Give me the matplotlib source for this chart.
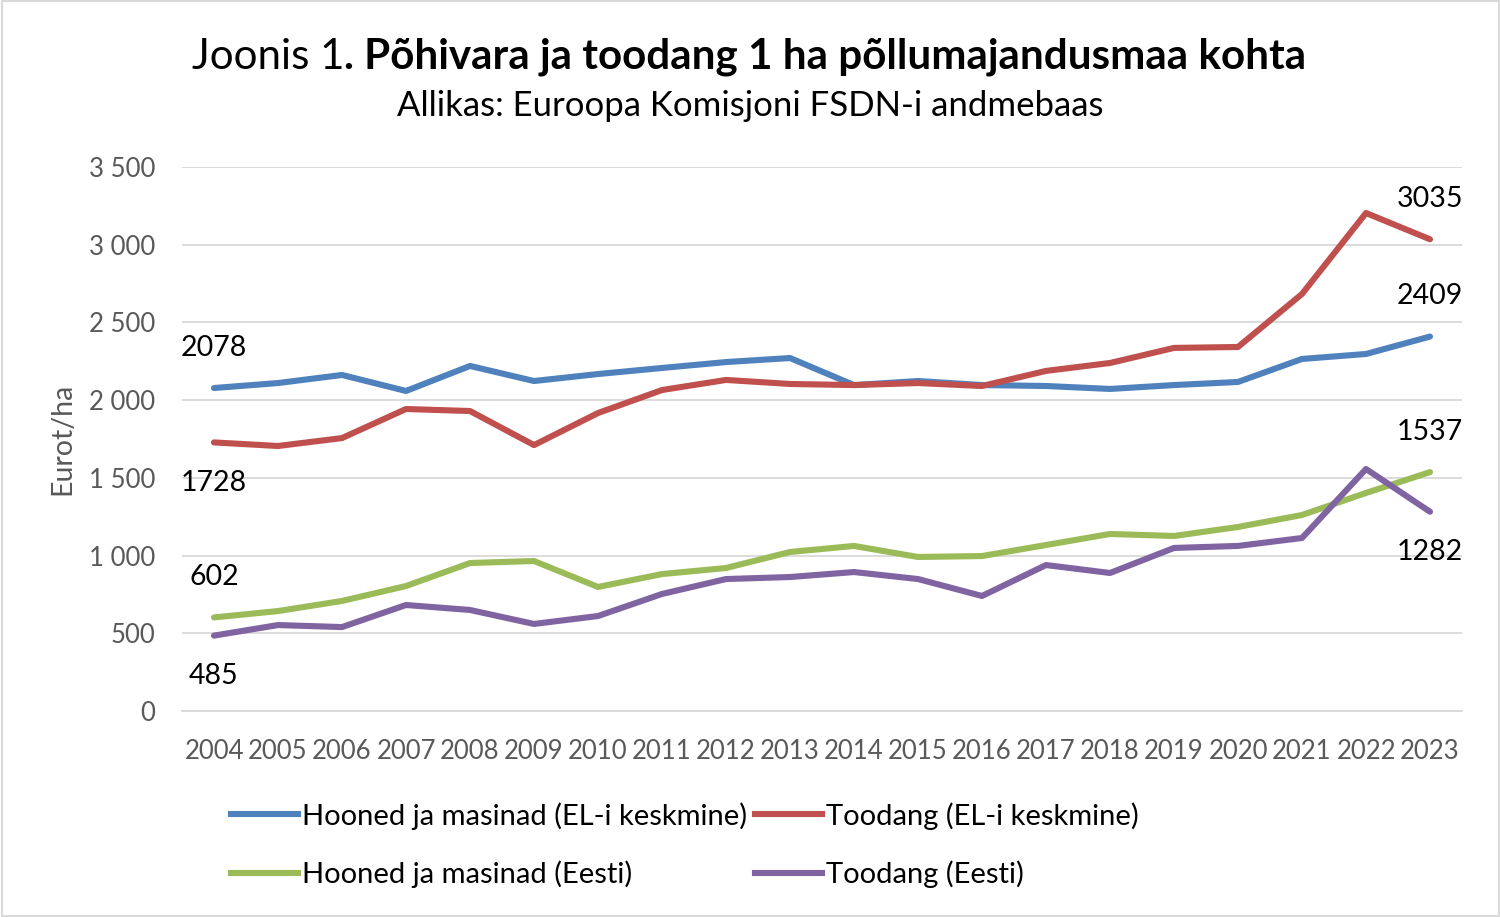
#!/usr/bin/env python3
"""Joonis 1: põhivara ja toodang 1 ha põllumajandusmaa kohta."""

import matplotlib

matplotlib.use("Agg")
import matplotlib.pyplot as plt
from matplotlib.lines import Line2D
from matplotlib.ticker import FuncFormatter

plt.rcParams["font.family"] = ["Lato", "DejaVu Sans"]

years = [str(y) for y in range(2004, 2024)]

hooned_el = [2078, 2110, 2162, 2059, 2220, 2123, 2168, 2207, 2245, 2271,
             2097, 2123, 2097, 2091, 2072, 2097, 2117, 2265, 2297, 2409]
toodang_el = [1728, 1705, 1756, 1943, 1930, 1711, 1917, 2065, 2130, 2104,
              2097, 2110, 2091, 2188, 2239, 2336, 2342, 2683, 3204, 3035]
hooned_ee = [602, 643, 708, 804, 952, 965, 798, 881, 920, 1023,
             1062, 991, 997, 1068, 1139, 1126, 1184, 1261, 1403, 1537]
toodang_ee = [485, 553, 540, 682, 650, 560, 611, 753, 849, 862,
              894, 849, 740, 939, 888, 1049, 1062, 1113, 1557, 1282]

series = [
    ("Hooned ja masinad (EL-i keskmine)", hooned_el, "#4f81bd"),
    ("Toodang (EL-i keskmine)", toodang_el, "#c0504d"),
    ("Hooned ja masinad (Eesti)", hooned_ee, "#9bbb59"),
    ("Toodang (Eesti)", toodang_ee, "#8064a2"),
]

# which end labels go above (+) or below (-) the point
label_side = {
    "Hooned ja masinad (EL-i keskmine)": (1, 1),
    "Toodang (EL-i keskmine)": (-1, 1),
    "Hooned ja masinad (Eesti)": (1, 1),
    "Toodang (Eesti)": (-1, -1),
}

GREY = "#595959"

fig = plt.figure(figsize=(15, 9.17), dpi=100)
ax = fig.add_axes([182 / 1500, 1 - 711 / 917, 1280 / 1500, 544 / 917])

x = list(range(len(years)))
for name, vals, color in series:
    ax.plot(x, vals, color=color, linewidth=4.4, solid_capstyle="round",
            solid_joinstyle="round", zorder=3)
    first, last = label_side[name]
    ax.annotate(str(vals[0]), (x[0], vals[0]), xytext=(0, 29 * first),
                textcoords="offset points", ha="center", va="center",
                fontsize=20.5, color="black")
    ax.annotate(str(vals[-1]), (x[-1], vals[-1]), xytext=(0, 29 * last),
                textcoords="offset points", ha="center", va="center",
                fontsize=20.5, color="black")

ax.set_xlim(-0.5, len(years) - 0.5)
ax.set_ylim(0, 3500)
ax.set_yticks(range(0, 3501, 500))
ax.yaxis.set_major_formatter(FuncFormatter(lambda v, _: f"{int(v):,}".replace(",", " ")))
ax.set_xticks(x)
ax.set_xticklabels(years)
ax.grid(axis="y", color="#d9d9d9", linewidth=1.3)
ax.set_axisbelow(True)
for side in ["top", "right", "left"]:
    ax.spines[side].set_visible(False)
ax.spines["bottom"].set_color("#d9d9d9")
ax.spines["bottom"].set_linewidth(1.3)
ax.tick_params(axis="both", length=0, colors=GREY, labelsize=18.5)
ax.tick_params(axis="x", pad=20)
ax.tick_params(axis="y", pad=19)
ax.set_ylabel("Eurot/ha", color=GREY, fontsize=20.5, labelpad=10)

# title: regular + bold parts, centered together
renderer = fig.canvas.get_renderer()
t1 = fig.text(0, 1 - 57 / 917, "Joonis 1", fontsize=30.3, va="center")
t2 = fig.text(0, 1 - 57 / 917, ". Põhivara ja toodang 1 ha põllumajandusmaa kohta",
              fontsize=30.3, fontweight="bold", va="center")
w1 = t1.get_window_extent(renderer).width
w2 = t2.get_window_extent(renderer).width
start = (749 - (w1 + w2) / 2) / 1500
t1.set_x(start)
t2.set_x(start + w1 / 1500)
fig.text(750 / 1500, 1 - 106 / 917, "Allikas: Euroopa Komisjoni FSDN-i andmebaas",
         fontsize=25, ha="center", va="center")

handles = [Line2D([], [], color=c, linewidth=4.4) for _, _, c in series]
order = [0, 2, 1, 3]
fig.legend([handles[i] for i in order], [series[i][0] for i in order],
           ncol=2, loc="center", bbox_to_anchor=(685 / 1500, 1 - 845 / 917),
           frameon=False, fontsize=21, handlelength=2.3, handletextpad=0.14,
           columnspacing=0.25, labelspacing=1.05)

fig.patches.append(plt.Rectangle((0.001, 0.001), 0.998, 0.998, transform=fig.transFigure,
                                 fill=False, edgecolor="#d9d9d9", linewidth=1.5))

fig.savefig("out.png", dpi=100)
